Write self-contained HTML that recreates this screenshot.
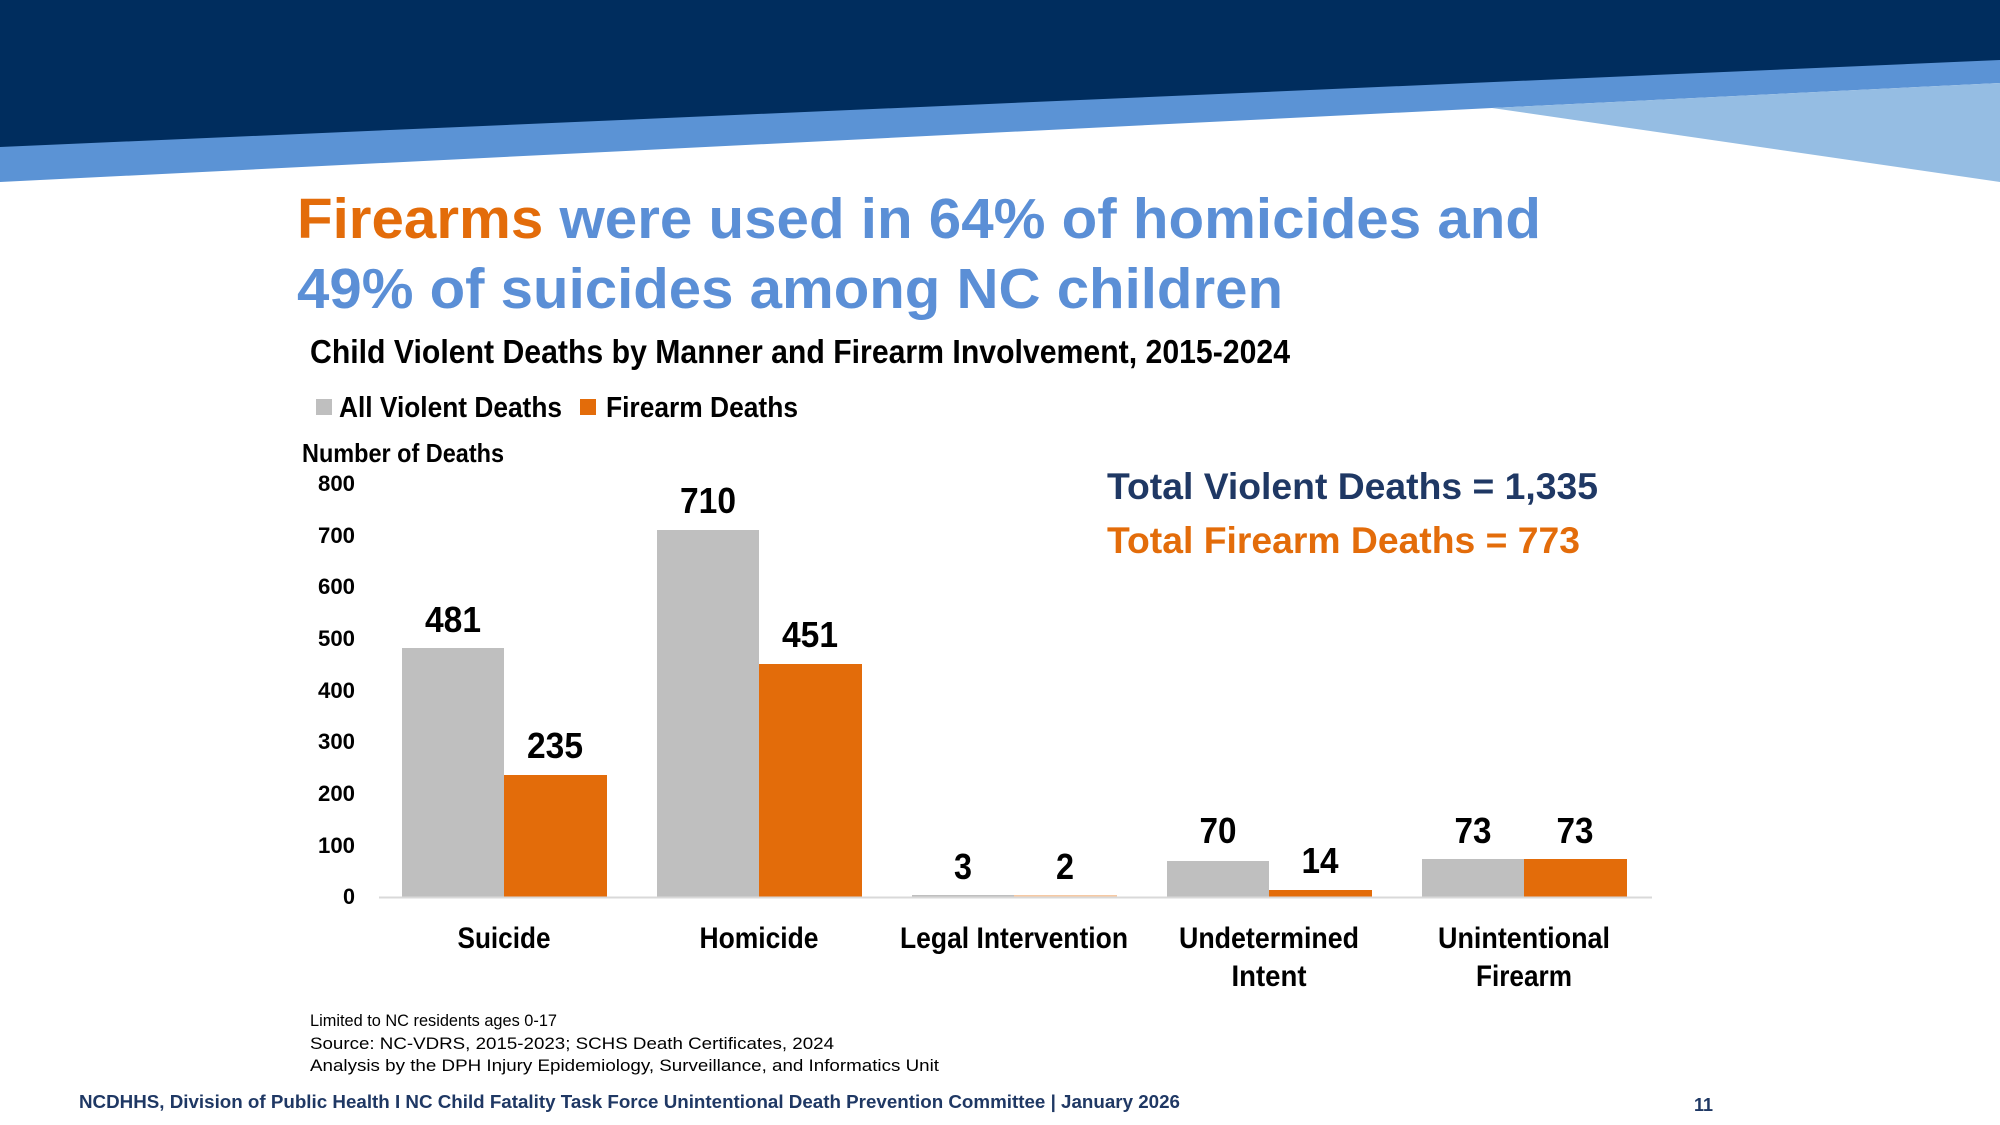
<!DOCTYPE html>
<html><head><meta charset="utf-8"><style>
html,body{margin:0;padding:0;background:#fff;}
svg{display:block;}
.n{font-family:"Liberation Sans",sans-serif;font-weight:bold;}
.s{font-family:"Liberation Sans",sans-serif;}
</style></head><body>
<svg width="2000" height="1125" viewBox="0 0 2000 1125" xmlns="http://www.w3.org/2000/svg">
<rect width="2000" height="1125" fill="#fff"/>
<polygon points="0,0 2000,0 2000,83 1492,108 0,182" fill="#5b93d5"/>
<polygon points="1492,108 2000,83 2000,182" fill="#95bde3"/>
<polygon points="0,0 2000,0 2000,60 0,147" fill="#002d5e"/>
<text x="297" y="238" class="s" font-size="57" font-weight="bold" fill="#5b8fd6" textLength="1244" lengthAdjust="spacingAndGlyphs"><tspan fill="#e36c0a">Firearms</tspan> were used in 64% of homicides and</text>
<text x="297" y="308" class="s" font-size="57" font-weight="bold" fill="#5b8fd6" textLength="986" lengthAdjust="spacingAndGlyphs">49% of suicides among NC children</text>
<text x="310" y="363" class="n" font-size="33" fill="#000" textLength="980" lengthAdjust="spacingAndGlyphs">Child Violent Deaths by Manner and Firearm Involvement, 2015-2024</text>
<rect x="316" y="399" width="16" height="16" fill="#bfbfbf"/>
<text x="339" y="417" class="n" font-size="29" fill="#000" textLength="223" lengthAdjust="spacingAndGlyphs">All Violent Deaths</text>
<rect x="580" y="399" width="16" height="16" fill="#e36c0a"/>
<text x="606" y="417" class="n" font-size="29" fill="#000" textLength="192" lengthAdjust="spacingAndGlyphs">Firearm Deaths</text>
<text x="302" y="462" class="n" font-size="26" fill="#000" textLength="202" lengthAdjust="spacingAndGlyphs">Number of Deaths</text>
<g class="n" font-size="22" fill="#000" text-anchor="end">
<text x="355" y="491" textLength="37" lengthAdjust="spacingAndGlyphs">800</text><text x="355" y="543" textLength="37" lengthAdjust="spacingAndGlyphs">700</text><text x="355" y="594" textLength="37" lengthAdjust="spacingAndGlyphs">600</text>
<text x="355" y="646" textLength="37" lengthAdjust="spacingAndGlyphs">500</text><text x="355" y="698" textLength="37" lengthAdjust="spacingAndGlyphs">400</text><text x="355" y="749" textLength="37" lengthAdjust="spacingAndGlyphs">300</text>
<text x="355" y="801" textLength="37" lengthAdjust="spacingAndGlyphs">200</text><text x="355" y="853" textLength="37" lengthAdjust="spacingAndGlyphs">100</text><text x="355" y="904" textLength="12" lengthAdjust="spacingAndGlyphs">0</text>
</g>
<text x="1107" y="499" class="s" font-size="37" font-weight="bold" fill="#1f3864" textLength="491" lengthAdjust="spacingAndGlyphs">Total Violent Deaths = 1,335</text>
<text x="1107" y="553" class="s" font-size="37" font-weight="bold" fill="#e36c0a" textLength="473" lengthAdjust="spacingAndGlyphs">Total Firearm Deaths = 773</text>
<g fill="#bfbfbf">
<rect x="402" y="648" width="102" height="249"/>
<rect x="657" y="530" width="102" height="367"/>
<rect x="912" y="895" width="102" height="2"/>
<rect x="1167" y="861" width="102" height="36"/>
<rect x="1422" y="859" width="102" height="38"/>
</g>
<g fill="#e36c0a">
<rect x="504" y="775" width="103" height="122"/>
<rect x="759" y="664" width="103" height="233"/>
<rect x="1014" y="895" width="103" height="2" fill="#f6c9a3"/>
<rect x="1269" y="890" width="103" height="7"/>
<rect x="1524" y="859" width="103" height="38"/>
</g>
<line x1="379" y1="897.5" x2="1652" y2="897.5" stroke="#d9d9d9" stroke-width="2"/>
<g class="n" font-size="36" fill="#000" text-anchor="middle">
<text x="453" y="632" textLength="56" lengthAdjust="spacingAndGlyphs">481</text><text x="555" y="758" textLength="56" lengthAdjust="spacingAndGlyphs">235</text>
<text x="708" y="513" textLength="56" lengthAdjust="spacingAndGlyphs">710</text><text x="810" y="647" textLength="56" lengthAdjust="spacingAndGlyphs">451</text>
<text x="963" y="879" textLength="18" lengthAdjust="spacingAndGlyphs">3</text><text x="1065" y="879" textLength="18" lengthAdjust="spacingAndGlyphs">2</text>
<text x="1218" y="843" textLength="37" lengthAdjust="spacingAndGlyphs">70</text><text x="1320" y="873" textLength="37" lengthAdjust="spacingAndGlyphs">14</text>
<text x="1473" y="843" textLength="37" lengthAdjust="spacingAndGlyphs">73</text><text x="1575" y="843" textLength="37" lengthAdjust="spacingAndGlyphs">73</text>
</g>
<g class="n" font-size="30" fill="#000" text-anchor="middle">
<text x="504" y="948" textLength="93" lengthAdjust="spacingAndGlyphs">Suicide</text>
<text x="759" y="948" textLength="119" lengthAdjust="spacingAndGlyphs">Homicide</text>
<text x="1014" y="948" textLength="228" lengthAdjust="spacingAndGlyphs">Legal Intervention</text>
<text x="1269" y="948" textLength="180" lengthAdjust="spacingAndGlyphs">Undetermined</text><text x="1269" y="986" textLength="75" lengthAdjust="spacingAndGlyphs">Intent</text>
<text x="1524" y="948" textLength="172" lengthAdjust="spacingAndGlyphs">Unintentional</text><text x="1524" y="986" textLength="96" lengthAdjust="spacingAndGlyphs">Firearm</text>
</g>
<g class="s" font-size="17" fill="#000">
<text x="310" y="1026" textLength="247" lengthAdjust="spacingAndGlyphs">Limited to NC residents ages 0-17</text>
<text x="310" y="1049" textLength="524" lengthAdjust="spacingAndGlyphs">Source: NC-VDRS, 2015-2023; SCHS Death Certificates, 2024</text>
<text x="310" y="1071" textLength="629" lengthAdjust="spacingAndGlyphs">Analysis by the DPH Injury Epidemiology, Surveillance, and Informatics Unit</text>
</g>
<text x="79" y="1108" class="s" font-size="18" font-weight="bold" fill="#1f3864" textLength="1101" lengthAdjust="spacingAndGlyphs">NCDHHS, Division of Public Health I NC Child Fatality Task Force Unintentional Death Prevention Committee | January 2026</text>
<text x="1694" y="1111" class="s" font-size="18" font-weight="bold" fill="#1f3864">11</text>
</svg>
</body></html>
